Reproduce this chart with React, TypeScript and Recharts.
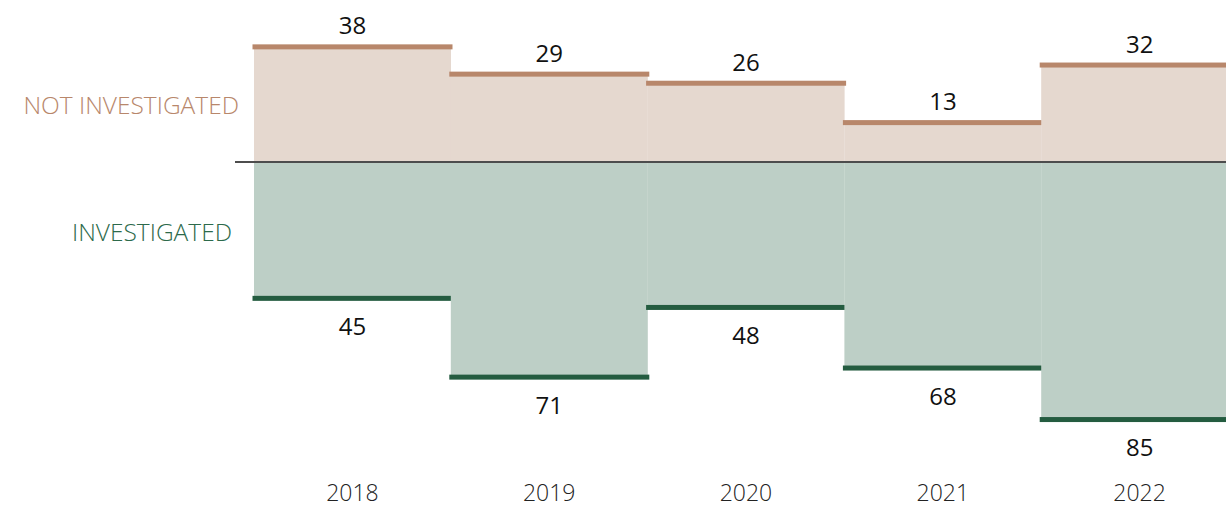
import { BarChart, Bar, XAxis, YAxis, ReferenceLine, LabelList } from "recharts";

const years = ["2018", "2019", "2020", "2021", "2022"];
const notInvestigated = [38, 29, 26, 13, 32];
const investigated = [45, 71, 48, 68, 85];
const sideLabels = ["NOT INVESTIGATED", "INVESTIGATED"];

const TAN = "#b8876b";
const TAN_LIGHT = "#e5d8cf";
const GREEN = "#245c40";
const GREEN_LIGHT = "#bdcfc6";
const FONT = "'Open Sans', 'Noto Sans', sans-serif";

const data = years.map((year, i) => ({
  year,
  notInvestigated: notInvestigated[i],
  investigated: -investigated[i],
}));

function CapBar(props: any) {
  const { x, y, width, height, fill, capColor, side } = props;
  const top = Math.min(y, y + height);
  const h = Math.abs(height);
  const capY = side === "up" ? top : top + h;
  return (
    <g>
      <rect x={x} y={top} width={width} height={h} fill={fill} />
      <rect x={x - 1.5} y={capY - 2.5} width={width + 3} height={5} fill={capColor} />
    </g>
  );
}

function valueLabel(side: "up" | "down") {
  return (p: any) => {
    const vb = p.viewBox ?? p;
    const x = vb.x ?? p.x;
    const y = vb.y ?? p.y;
    const w = vb.width ?? p.width;
    const h = vb.height ?? p.height;
    const top = Math.min(y, y + h);
    const bottom = Math.max(y, y + h);
    const ty = side === "up" ? top - 22 : bottom + 27;
    return (
      <text x={x + w / 2} y={ty} textAnchor="middle" dominantBaseline="central" fill="#111" fontSize={24} fontFamily={FONT}>
        {Math.abs(Number(p.value))}
      </text>
    );
  };
}

function SideTick(p: any) {
  const up = p.payload.value > 0;
  return (
    <text
      x={up ? 239 : 232}
      y={p.y}
      textAnchor="end"
      dominantBaseline="central"
      fill={up ? TAN : "#2d6a4b"}
      fontSize={24.5}
      fontWeight={300}
      fontFamily={FONT}
    >
      {up ? sideLabels[0] : sideLabels[1]}
    </text>
  );
}

function YearTick(p: any) {
  return (
    <text x={p.x} y={492} textAnchor="middle" dominantBaseline="central" fill="#222" fontSize={23} fontWeight={300} fontFamily={FONT}>
      {p.payload.value}
    </text>
  );
}

export default function App() {
  return (
    <div style={{ position: "absolute", left: 0, top: 0, width: 1226, height: 507, overflow: "hidden" }}>
      <BarChart
        width={1238}
        height={507}
        data={data}
        stackOffset="sign"
        barCategoryGap={0}
        margin={{ top: 10.5, right: 0, bottom: 0, left: 0 }}
      >
        <XAxis dataKey="year" height={42} axisLine={false} tickLine={false} tick={<YearTick />} interval={0} />
        <YAxis
          width={254}
          domain={[-100, 50]}
          ticks={[19, -23]}
          axisLine={false}
          tickLine={false}
          tick={<SideTick />}
        />
        <Bar
          dataKey="notInvestigated"
          stackId="a"
          isAnimationActive={false}
          shape={(p: any) => <CapBar {...p} fill={TAN_LIGHT} capColor={TAN} side="up" />}
        >
          <LabelList dataKey="notInvestigated" content={valueLabel("up")} />
        </Bar>
        <Bar
          dataKey="investigated"
          stackId="a"
          isAnimationActive={false}
          shape={(p: any) => <CapBar {...p} fill={GREEN_LIGHT} capColor={GREEN} side="down" />}
        >
          <LabelList dataKey="investigated" content={valueLabel("down")} />
        </Bar>
        <ReferenceLine
          y={0}
          shape={(p: any) => (
            <line x1={p.x1 - 19} y1={p.y1} x2={p.x2} y2={p.y2} stroke="#4d4d4d" strokeWidth={2} />
          )}
        />
      </BarChart>
    </div>
  );
}
